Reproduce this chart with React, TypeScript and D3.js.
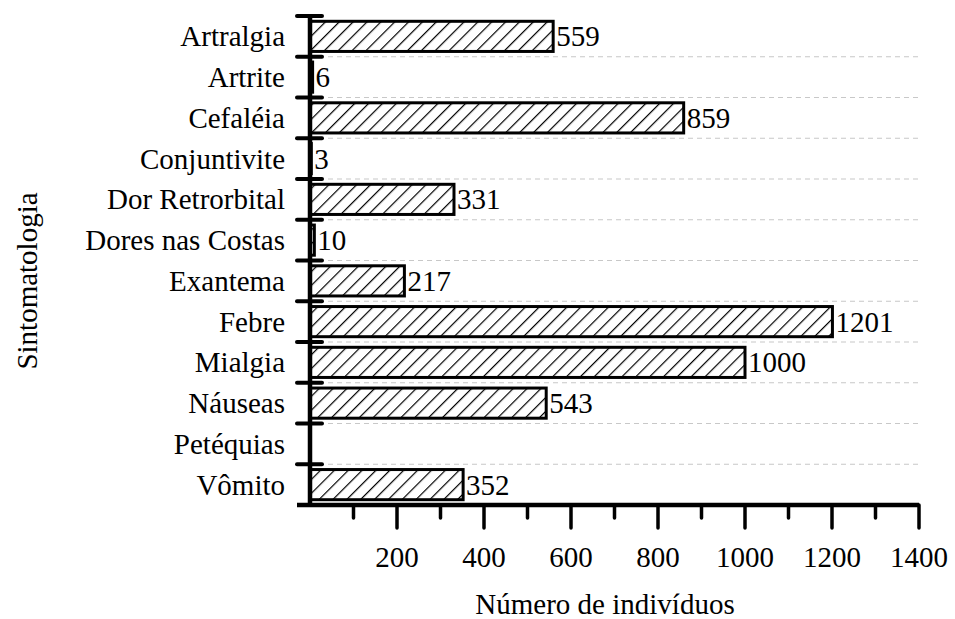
import React from "react";
import * as d3 from "d3";

const categories = [
  "Artralgia",
  "Artrite",
  "Cefaléia",
  "Conjuntivite",
  "Dor Retrorbital",
  "Dores nas Costas",
  "Exantema",
  "Febre",
  "Mialgia",
  "Náuseas",
  "Petéquias",
  "Vômito",
];
const values = [559, 6, 859, 3, 331, 10, 217, 1201, 1000, 543, 0, 352];
const majorTicks = [200, 400, 600, 800, 1000, 1200, 1400];
const minorTicks = [100, 300, 500, 700, 900, 1100, 1300];
const xTitle = "Número de indivíduos";
const yTitle = "Sintomatologia";

const W = 955;
const H = 619;
const textStyle: React.CSSProperties = {
  fontFamily: '"Times New Roman", Times, "Liberation Serif", "DejaVu Serif", serif',
  fontSize: "29px",
};

export default function App() {
  const x = d3.scaleLinear().domain([0, 1400]).range([310, 919]);
  const y = d3
    .scaleBand<string>()
    .domain(categories)
    .range([16, 505])
    .paddingInner(0.26)
    .paddingOuter(0.13);
  const step = y.step();
  const boundaries = d3.range(categories.length + 1).map((i) => 16 + i * step);
  const x0 = x(0);
  const baseY = 505;
  const hp = 9.8;

  return (
    <svg
      width={W}
      height={H}
      style={{ position: "absolute", left: 0, top: 0, background: "#fff" }}
    >
      <defs>
        <pattern
          id="hatch"
          patternUnits="userSpaceOnUse"
          width={hp}
          height={hp}
          patternTransform="rotate(45)"
        >
          <rect width={hp} height={hp} fill="#fff" />
          <line x1={0} y1={0} x2={0} y2={hp} stroke="#000" strokeWidth={2.4} />
        </pattern>
      </defs>
      {boundaries.slice(1, categories.length).map((b, i) => (
        <line
          key={"g" + i}
          x1={x0}
          x2={x(1400)}
          y1={b}
          y2={b}
          stroke="#c8c8c8"
          strokeWidth={1.2}
          strokeDasharray="5,4"
        />
      ))}
      {categories.map((c, i) =>
        values[i] > 0 ? (
          <rect
            key={"b" + c}
            x={x0}
            y={y(c)!}
            width={x(values[i]) - x0}
            height={y.bandwidth()}
            fill="url(#hatch)"
            stroke="#000"
            strokeWidth={3}
          />
        ) : null
      )}
      {categories.map((c, i) =>
        values[i] > 0 ? (
          <text
            key={"v" + c}
            x={x(values[i]) + 3}
            y={y(c)! + y.bandwidth() / 2 + 10}
            style={textStyle}
            fill="#000"
          >
            {values[i]}
          </text>
        ) : null
      )}
      <line x1={x0} x2={x0} y1={16} y2={baseY} stroke="#000" strokeWidth={4.5} />
      {boundaries.slice(0, categories.length).map((b, i) => (
        <line
          key={"yt" + i}
          x1={297}
          x2={322}
          y1={b}
          y2={b}
          stroke="#000"
          strokeWidth={4}
          strokeLinecap="round"
        />
      ))}
      {categories.map((c) => (
        <text
          key={"yl" + c}
          x={285}
          y={y(c)! + y.bandwidth() / 2 + 10}
          textAnchor="end"
          style={textStyle}
          fill="#000"
        >
          {c}
        </text>
      ))}
      <line x1={297} x2={x(1400)} y1={baseY} y2={baseY} stroke="#000" strokeWidth={4.5} />
      {minorTicks.map((t) => (
        <line
          key={"mn" + t}
          x1={x(t)}
          x2={x(t)}
          y1={baseY}
          y2={518}
          stroke="#000"
          strokeWidth={3.5}
          strokeLinecap="round"
        />
      ))}
      {majorTicks.map((t) => (
        <line
          key={"mj" + t}
          x1={x(t)}
          x2={x(t)}
          y1={baseY}
          y2={528}
          stroke="#000"
          strokeWidth={3.5}
          strokeLinecap="round"
        />
      ))}
      {majorTicks.map((t) => (
        <text
          key={"xl" + t}
          x={x(t)}
          y={567}
          textAnchor="middle"
          style={textStyle}
          fill="#000"
        >
          {t}
        </text>
      ))}
      <text x={605} y={614} textAnchor="middle" style={textStyle} fill="#000">
        {xTitle}
      </text>
      <text
        transform="translate(37,281) rotate(-90)"
        textAnchor="middle"
        style={textStyle}
        fill="#000"
      >
        {yTitle}
      </text>
    </svg>
  );
}
